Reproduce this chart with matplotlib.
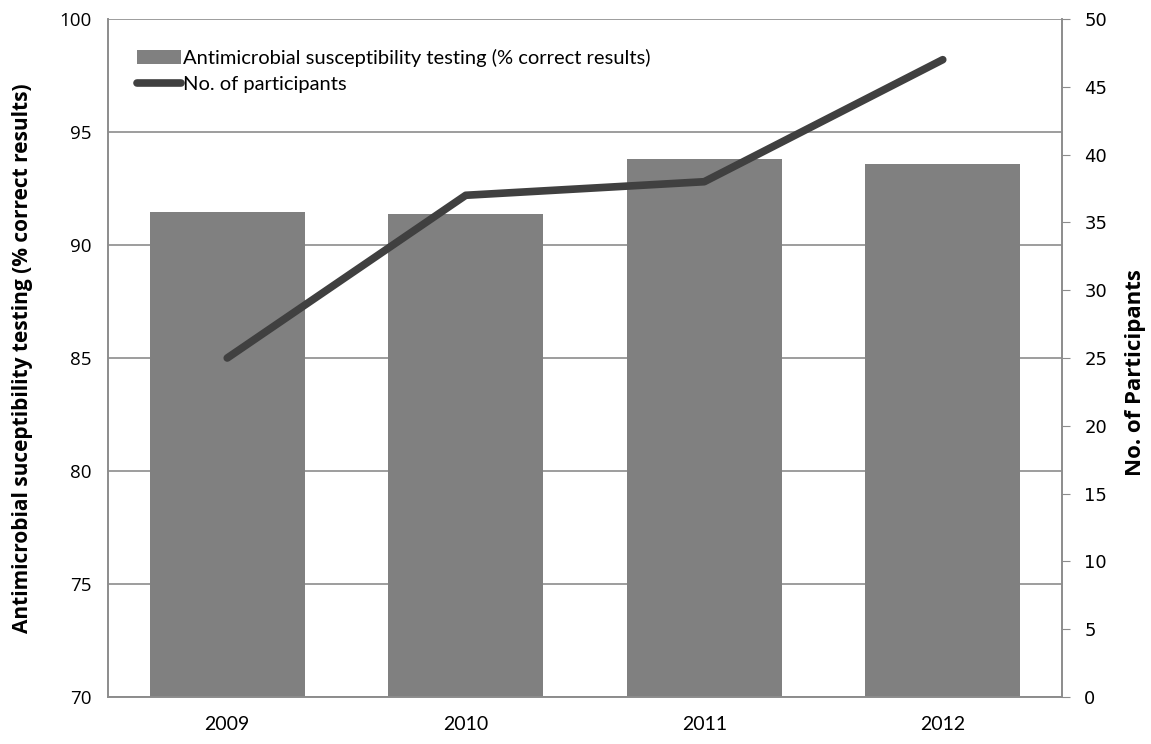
import matplotlib
matplotlib.use("Agg")
import matplotlib.pyplot as plt
import numpy as np

years = ["2009", "2010", "2011", "2012"]
ast_correct = [91.46, 91.36, 93.82, 93.6]
participants = [25, 37, 38, 47]

plt.rcParams["font.family"] = ["Lato", "DejaVu Sans"]

fig = plt.figure(figsize=(11.51, 7.44), dpi=100)
ax = fig.add_axes([108 / 1151, 1 - 697 / 744, (1062 - 108) / 1151, (697 - 19) / 744])
ax2 = ax.twinx()

x = np.arange(len(years))
bars = ax.bar(x, [v - 70 for v in ast_correct], bottom=70, width=0.65, color="#808080",
              label="Antimicrobial susceptibility testing (% correct results)", zorder=2)
line, = ax2.plot(x, participants, color="#404040", lw=5.5, solid_capstyle="round",
                 label="No. of participants", zorder=3)

ax.set_xlim(-0.5, 3.5)
ax.set_ylim(70, 100)
ax.set_yticks(range(70, 101, 5))
ax.set_xticks(x)
ax.set_xticklabels(years, fontsize=14)
ax.yaxis.grid(True, color="#8c8c8c", lw=1.2, zorder=0)
ax.set_axisbelow(True)
ax.tick_params(axis="x", length=0, pad=14)
ax.tick_params(axis="y", length=0, pad=12, labelsize=13.5)
for t in ax.get_yticklabels():
    t.set_family("Open Sans")
ax.set_ylabel("Antimicrobial suceptibility testing (% correct results)", fontsize=15,
              fontweight="bold", family="Open Sans")
ax.yaxis.set_label_coords(-0.079, 0.5)

ax2.set_ylim(0, 50)
ax2.set_yticks(range(0, 51, 5))
ax2.tick_params(axis="y", length=6, color="#8c8c8c", labelsize=13, pad=10)
for t in ax2.get_yticklabels():
    t.set_family("DejaVu Sans")
ax2.set_ylabel("No. of Participants", fontsize=16, fontweight="bold", family="Open Sans")
ax2.yaxis.set_label_coords(1.066, 0.479)

for a in (ax, ax2):
    for s in a.spines.values():
        s.set_color("#8c8c8c")
        s.set_linewidth(1.2)
    a.spines["top"].set_visible(False)

ax.legend(handles=[bars, line], loc="upper left", bbox_to_anchor=(0.022, 0.968), frameon=False,
          fontsize=14.5, handlelength=2.2, handletextpad=0.1, labelspacing=0.45, borderaxespad=0)

fig.savefig("out.png", dpi=100)
